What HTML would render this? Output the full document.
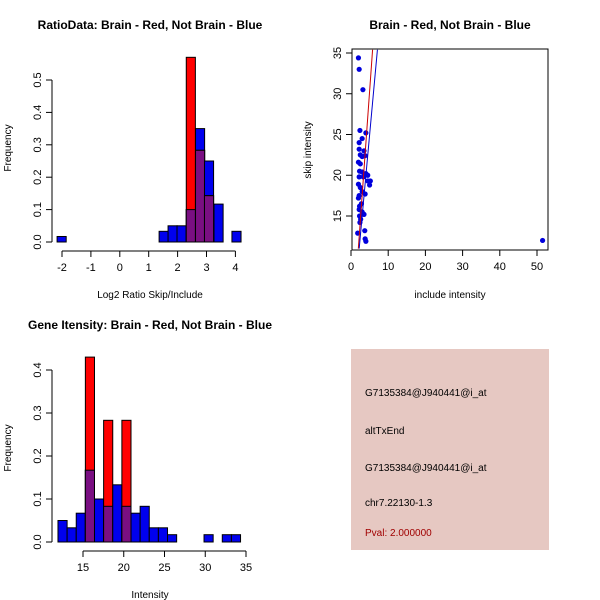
<!DOCTYPE html>
<html><head><meta charset="utf-8"><style>
body{margin:0;background:#fff;}
svg{display:block;font-family:"Liberation Sans",Arial,sans-serif;}
.t{font-size:12px;font-weight:bold;}
.a{font-size:11px;}
.s{font-size:10px;}
</style></head><body>
<svg id="c" width="600" height="600" xmlns="http://www.w3.org/2000/svg">
<rect width="600" height="600" fill="#fff"/>
<text class="t" x="150" y="29" text-anchor="middle">RatioData: Brain - Red, Not Brain - Blue</text>
<text class="t" x="450" y="29" text-anchor="middle">Brain - Red, Not Brain - Blue</text>
<text class="t" x="150" y="329" text-anchor="middle">Gene Itensity: Brain - Red, Not Brain - Blue</text>
<text class="s" x="150" y="298" text-anchor="middle">Log2 Ratio Skip/Include</text>
<text class="s" x="150" y="598" text-anchor="middle">Intensity</text>
<text class="s" x="450" y="298" text-anchor="middle">include intensity</text>
<text class="s" transform="translate(11,148) rotate(-90)" text-anchor="middle">Frequency</text>
<text class="s" transform="translate(11,448) rotate(-90)" text-anchor="middle">Frequency</text>
<text class="s" transform="translate(311,150) rotate(-90)" text-anchor="middle">skip intensity</text>
<g>
<rect x="351" y="349" width="198" height="201" fill="#e6c8c2"/>
<text class="s" x="365" y="396">G7135384@J940441@i_at</text>
<text class="s" x="365" y="434">altTxEnd</text>
<text class="s" x="365" y="471">G7135384@J940441@i_at</text>
<text class="s" x="365" y="506">chr7.22130-1.3</text>
<text class="s" x="365" y="536" fill="#a00000">Pval: 2.000000</text>
</g>
</svg>
<script>
// Ratio histogram data
const ratioBinStarts=[-2.17,1.36,1.67,1.98,2.30,2.62,2.93,3.26,3.88];
const ratioBinWidth=0.315;
const ratioBlue=[0.017,0.033,0.05,0.05,0.10,0.35,0.25,0.117,0.033];
const ratioRed=[0,0,0,0,0.57,0.283,0.143,0,0];
const ratioXTicks=[-2,-1,0,1,2,3,4];
const ratioYTicks=[0,0.1,0.2,0.3,0.4,0.5];
// Intensity histogram data
const intStart=11.93, intWidth=1.12;
const intBlue=[0.05,0.033,0.067,0.167,0.10,0.083,0.133,0.083,0.067,0.083,0.033,0.033,0.017,0,0,0,0.017,0,0.017,0.017];
const intRed=[0,0,0,0.43,0,0.283,0,0.283,0,0,0,0,0,0,0,0,0,0,0,0];
const intXTicks=[15,20,25,30,35];
const intYTicks=[0,0.1,0.2,0.3,0.4];
// Scatter data
const incl=[2,2.2,3.2,2.4,4,3,2.2,2.2,3.5,2.5,3,3.8,2,2.5,2.3,3,4,4.5,2.2,3.3,5.2,4.5,5,2,2.5,3,3.8,2.2,2,2.8,2.3,2.2,3,3.5,2.3,2.6,2.4,3.7,1.8,3.8,4,51.5];
const skip=[34.4,33,30.5,25.5,25.2,24.5,24,23.2,23,22.5,22.3,22.4,21.6,21.4,20.5,20.4,20.2,20,19.8,19.8,19.3,19.3,18.8,18.9,18.5,18,17.7,17.5,17.2,16.5,16.2,15.8,15.5,15.2,15,14.6,14.2,13.2,12.9,12.2,11.9,12];
const redLine=[[1.97,11],[5.8,35.4]];
const blueLine=[[2.2,11],[7.1,35.4]];
const scatXTicks=[0,10,20,30,40,50];
const scatYTicks=[15,20,25,30,35];

const svg=document.getElementById('c');
const NS='http://www.w3.org/2000/svg';
function el(tag,attrs,parent){const e=document.createElementNS(NS,tag);for(const k in attrs)e.setAttribute(k,attrs[k]);(parent||svg).appendChild(e);return e;}
const PURPLE='#7a0f82';

function hist(name,xs,ys,starts,width,blue,red,xt,yt,yAxisX,xAxisY,yMaxTick){
  const g=el('g',{});
  
  
  for(let i=0;i<starts.length;i++){
    const x0=xs(starts[i]),x1=xs(starts[i]+width);
    const b=blue[i],r=red[i];
    if(b>0){const e=el('rect',{x:x0,y:ys(b),width:x1-x0,height:ys(0)-ys(b),fill:'#0000ee',stroke:'#000','stroke-width':1},g);
      }
    if(r>0){const e=el('rect',{x:x0,y:ys(r),width:x1-x0,height:ys(0)-ys(r),fill:'#ff0000',stroke:'#000','stroke-width':1},g);
      }
    const m=Math.min(b,r);
    if(m>0){const e=el('rect',{x:x0,y:ys(m),width:x1-x0,height:ys(0)-ys(m),fill:PURPLE,stroke:'#000','stroke-width':1},g);
      }
  }
  const ax=el('g',{},g);
  
  
  el('line',{x1:xs(xt[0]),x2:xs(xt[xt.length-1]),y1:xAxisY,y2:xAxisY,stroke:'#000'},ax);
  xt.forEach(v=>{el('line',{x1:xs(v),x2:xs(v),y1:xAxisY,y2:xAxisY+6,stroke:'#000'},ax);
    const t=el('text',{x:xs(v),y:xAxisY+20,'text-anchor':'middle','class':'a'},ax);t.textContent=v;});
  el('line',{x1:yAxisX,x2:yAxisX,y1:ys(yt[0]),y2:ys(yt[yt.length-1]),stroke:'#000'},ax);
  yt.forEach(v=>{el('line',{x1:yAxisX-6,x2:yAxisX,y1:ys(v),y2:ys(v),stroke:'#000'},ax);
    const t=el('text',{transform:`translate(${yAxisX-11},${ys(v)}) rotate(-90)`,'text-anchor':'middle','class':'a'},ax);t.textContent=v.toFixed(1);});
}
hist('ratio-histogram',v=>62+(v+2)*28.9,v=>242-v*324,ratioBinStarts,ratioBinWidth,ratioBlue,ratioRed,ratioXTicks,ratioYTicks,52,251);
const intStarts=intBlue.map((_,i)=>intStart+i*intWidth);
hist('intensity-histogram',v=>83+(v-15)*8.15,v=>542-v*430,intStarts,intWidth,intBlue,intRed,intXTicks,intYTicks,52,551);

// scatter
const sx=v=>351+v*3.72, sy=v=>216-(v-15)*8.15;
const sg=el('g',{});


el('clipPath',{id:'sc'},sg);
el('rect',{x:352,y:49,width:196,height:201},document.getElementById('sc'));
incl.forEach((v,i)=>{const c=el('circle',{cx:sx(v),cy:sy(skip[i]),r:2.6,fill:'#0000dd'},sg);
  });
const rl=el('line',{x1:sx(redLine[0][0]),y1:sy(redLine[0][1]),x2:sx(redLine[1][0]),y2:sy(redLine[1][1]),stroke:'#cc0000','clip-path':'url(#sc)'},sg);

const bl=el('line',{x1:sx(blueLine[0][0]),y1:sy(blueLine[0][1]),x2:sx(blueLine[1][0]),y2:sy(blueLine[1][1]),stroke:'#0000cc','clip-path':'url(#sc)'},sg);

el('rect',{x:352,y:49,width:196,height:201,fill:'none',stroke:'#000'},sg);
scatXTicks.forEach(v=>{el('line',{x1:sx(v),x2:sx(v),y1:250,y2:256,stroke:'#000'},sg);
  const t=el('text',{x:sx(v),y:270,'text-anchor':'middle','class':'a'},sg);t.textContent=v;});
scatYTicks.forEach(v=>{el('line',{x1:346,x2:352,y1:sy(v),y2:sy(v),stroke:'#000'},sg);
  const t=el('text',{transform:`translate(341,${sy(v)}) rotate(-90)`,'text-anchor':'middle','class':'a'},sg);t.textContent=v;});
</script>
</body></html>
